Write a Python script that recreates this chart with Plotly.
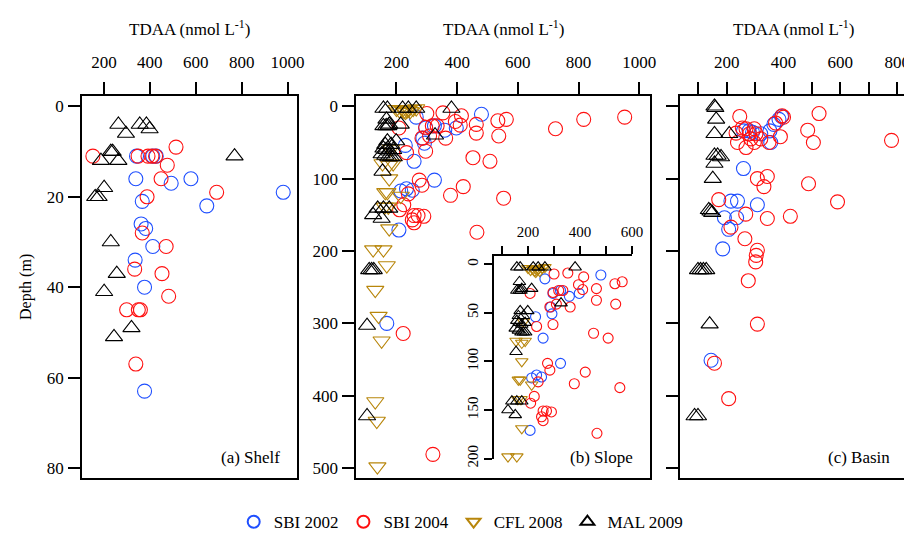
import plotly.graph_objects as go

# ---------------- data ----------------
# Panel (a) Shelf
shelf_sbi02_tdaa = [342, 413, 428, 339, 493, 579, 981, 648, 367, 362, 382, 413, 336, 377, 377]
shelf_sbi02_depth = [11, 11, 11, 16, 17, 16, 19, 22, 21, 26, 27, 31, 34, 40, 63]
shelf_sbi04_tdaa = [152, 349, 392, 409, 425, 514, 476, 449, 691, 388, 367, 471, 334, 453, 482, 299, 350, 359, 339]
shelf_sbi04_depth = [11, 11, 11, 11, 11, 9, 13, 16, 19, 20, 28, 31, 36, 37, 42, 45, 45, 45, 57]
shelf_mal_tdaa = [263, 356, 385, 399, 296, 230, 238, 187, 263, 769, 201, 162, 177, 230, 256, 201, 320, 244]
shelf_mal_depth = [4, 4, 4, 5, 6, 10, 10, 12, 12, 11, 18, 20, 20, 30, 37, 41, 49, 51]

# Panel (b) Slope
slope_sbi02_tdaa = [265, 480, 296, 325, 359, 397, 287, 292, 229, 258, 325, 214, 233, 252, 208, 168]
slope_sbi02_depth = [15, 11, 30, 27, 33, 30, 44, 51, 54, 76, 102, 117, 114, 116, 171, 300]
slope_sbi04_tdaa = [300, 353, 414, 394, 410, 463, 534, 562, 296, 318, 334, 309, 284, 362, 463, 537,
                    208, 233, 296, 452, 508, 275, 284, 420, 378, 553, 239, 224, 210, 258, 271, 290,
                    252, 258, 465, 724, 817, 952, 222, 320]
slope_sbi04_depth = [10, 9, 13, 21, 26, 25, 20, 18, 29, 27, 27, 41, 44, 44, 37, 41,
                     30, 64, 62, 71, 76, 102, 109, 111, 123, 127, 121, 136, 143, 151, 151, 152,
                     157, 161, 174, 31, 18, 15, 314, 481]
slope_cfl_tdaa = [200, 210, 220, 225, 230, 235, 240, 245, 255, 265, 182, 154, 176, 189, 176, 163, 170,
                  214, 161, 173, 176, 123, 157, 168, 130, 141, 151, 130, 135, 137]
slope_cfl_depth = [4, 6, 5, 7, 8, 6, 5, 7, 4, 3, 59, 79, 81, 79, 100, 119, 119,
                   124, 139, 139, 169, 198, 198, 220, 254, 290, 324, 408, 435, 498]
slope_mal_tdaa = [157, 170, 220, 239, 265, 381, 167, 176, 214, 157, 166, 173, 327, 170, 199, 163, 182,
                  157, 166, 176, 189, 151, 163, 173, 182, 191, 154, 138, 157, 176, 123, 151,
                  110, 118, 125, 103, 103]
slope_mal_depth = [3, 3, 3, 3, 3, 3, 18, 25, 25, 27, 27, 27, 40, 48, 48, 53, 53,
                   58, 60, 62, 60, 66, 68, 70, 70, 70, 90, 141, 141, 141, 150, 155,
                   226, 226, 226, 303, 428]

# Panel (c) Basin
basin_sbi02_tdaa = [393, 384, 366, 352, 259, 279, 291, 320, 355, 259, 215, 238, 308, 192, 235, 207, 186, 145]
basin_sbi02_depth = [14, 18, 25, 34, 34, 34, 36, 38, 50, 86, 131, 131, 136, 154, 154, 170, 197, 351]
basin_sbi04_tdaa = [246, 525, 395, 400, 372, 485, 505, 780, 233, 268, 297, 280, 303, 238, 268, 297, 349,
                    389, 255, 285, 320, 308, 343, 331, 488, 590, 172, 267, 343, 424, 215, 264, 308,
                    304, 302, 276, 308, 157, 207]
basin_sbi04_depth = [14, 10, 13, 15, 23, 33, 50, 47, 37, 31, 31, 38, 38, 50, 57, 50, 50,
                     42, 30, 45, 45, 100, 97, 111, 107, 132, 129, 149, 155, 152, 167, 183, 199,
                     206, 215, 241, 301, 355, 404]
basin_mal_tdaa = [157, 160, 163, 157, 209, 157, 168, 180, 157, 151, 137, 143, 149, 99, 108, 118, 128,
                  140, 87, 99]
basin_mal_depth = [0, 2, 18, 38, 38, 68, 68, 70, 79, 100, 143, 145, 147, 226, 226, 226, 226,
                   301, 428, 428]

series_names = ["SBI 2002", "SBI 2004", "CFL 2008", "MAL 2009"]
x_ticks_main = [200, 400, 600, 800, 1000]
x_ticks_basin = [200, 400, 600, 800]
x_ticks_inset = [200, 400, 600]

# ---------------- styling ----------------
W, H = 912, 533
FONT = "Liberation Serif"
COL = {"SBI 2002": "#1f4fff", "SBI 2004": "#ff1010", "CFL 2008": "#b8860b", "MAL 2009": "#000000"}
SYM = {"SBI 2002": "circle-open", "SBI 2004": "circle-open",
       "CFL 2008": "triangle-down-open", "MAL 2009": "triangle-up-open"}


def dom_x(a, b):
    return [a / W, b / W]


def dom_y(top, bottom):
    return [1 - bottom / H, 1 - top / H]


fig = go.Figure()


def add(xs, ys, name, xa, ya, size=14, legend=False, clip=True):
    fig.add_trace(go.Scatter(
        x=xs, y=ys, mode="markers", name=name, legendgroup=name, showlegend=legend,
        xaxis=xa, yaxis=ya, cliponaxis=clip,
        marker=dict(symbol=SYM[name], size=size, color=COL[name], line=dict(width=1.1, color=COL[name]))))


# panel a
add(shelf_sbi02_tdaa, shelf_sbi02_depth, "SBI 2002", "x", "y")
add(shelf_sbi04_tdaa, shelf_sbi04_depth, "SBI 2004", "x", "y")
add(shelf_mal_tdaa, shelf_mal_depth, "MAL 2009", "x", "y", size=15)
# panel b
add(slope_sbi02_tdaa, slope_sbi02_depth, "SBI 2002", "x2", "y2", legend=True)
add(slope_sbi04_tdaa, slope_sbi04_depth, "SBI 2004", "x2", "y2", legend=True)
add(slope_cfl_tdaa, slope_cfl_depth, "CFL 2008", "x2", "y2", size=15, legend=True)
add(slope_mal_tdaa, slope_mal_depth, "MAL 2009", "x2", "y2", size=15, legend=True)
# panel c
add(basin_sbi02_tdaa, basin_sbi02_depth, "SBI 2002", "x3", "y3")
add(basin_sbi04_tdaa, basin_sbi04_depth, "SBI 2004", "x3", "y3")
add(basin_mal_tdaa, basin_mal_depth, "MAL 2009", "x3", "y3", size=15)

# inset (zoom of slope, 0-200 m, up to 600 nmol/L)
INSET_XMAX, INSET_YMAX = 600, 200


def inset_filter(xs, ys):
    pts = [(a, b) for a, b in zip(xs, ys) if a <= INSET_XMAX and b <= INSET_YMAX]
    return [p[0] for p in pts], [p[1] for p in pts]


for xs, ys, nm, sz in [(slope_sbi02_tdaa, slope_sbi02_depth, "SBI 2002", 10),
                       (slope_sbi04_tdaa, slope_sbi04_depth, "SBI 2004", 10),
                       (slope_cfl_tdaa, slope_cfl_depth, "CFL 2008", 11),
                       (slope_mal_tdaa, slope_mal_depth, "MAL 2009", 11)]:
    fx, fy = inset_filter(xs, ys)
    add(fx, fy, nm, "x4", "y4", size=sz, clip=False)

tickfont = dict(family=FONT, size=17, color="black")
common_x = dict(side="top", showline=True, mirror=True, linewidth=2, linecolor="black",
                ticks="outside", ticklen=12, tickwidth=2, tickcolor="black",
                showgrid=False, zeroline=False, tickfont=tickfont, ticklabelstandoff=8)
common_y = dict(showline=True, mirror=True, linewidth=2, linecolor="black",
                ticks="outside", ticklen=12, tickwidth=2, tickcolor="black",
                showgrid=False, zeroline=False, tickfont=tickfont)

fig.update_layout(
    width=W, height=H, margin=dict(l=0, r=0, t=0, b=0),
    paper_bgcolor="white", plot_bgcolor="rgba(0,0,0,0)",
    font=dict(family=FONT, size=17, color="black"),
    xaxis=dict(common_x, domain=dom_x(75, 293), range=[105, 1043], tickvals=x_ticks_main, anchor="y"),
    yaxis=dict(common_y, domain=dom_y(90, 478), range=[82.2, -2.2], tickvals=[0, 20, 40, 60, 80],
               anchor="x", ticklabelstandoff=1),
    xaxis2=dict(common_x, domain=dom_x(352.7, 650), range=[68, 1036], tickvals=x_ticks_main, anchor="y2"),
    yaxis2=dict(common_y, domain=dom_y(90, 478), range=[513.6, -13.6], tickvals=[0, 100, 200, 300, 400, 500],
                anchor="x2", ticklabelstandoff=1),
    xaxis3=dict(common_x, domain=dom_x(680, 910.7), range=[35, 837], tickvals=x_ticks_basin, anchor="y3",
                minor=dict(tickvals=[100, 300, 500, 700], ticks="outside", ticklen=12, tickwidth=2,
                           tickcolor="black", showgrid=False)),
    yaxis3=dict(common_y, domain=dom_y(90, 478), range=[513.6, -13.6], tickvals=[0, 100, 200, 300, 400, 500],
                showticklabels=False, anchor="x3"),
    xaxis4=dict(side="top", showline=True, mirror=False, linewidth=2, linecolor="black",
                ticks="outside", ticklen=8, tickwidth=1.5, tickcolor="black", showgrid=False, zeroline=False,
                tickfont=dict(family=FONT, size=15, color="black"), ticklabelstandoff=3,
                domain=dom_x(491.7, 631.7), range=[68.4, 600], tickvals=x_ticks_inset, anchor="y4",
                minor=dict(tickvals=[100, 300, 500], ticks="outside", ticklen=8, tickwidth=1.5,
                           tickcolor="black", showgrid=False)),
    yaxis4=dict(showline=True, mirror=False, linewidth=2, linecolor="black",
                ticks="outside", ticklen=8, tickwidth=1.5, tickcolor="black", showgrid=False, zeroline=False,
                tickfont=dict(family=FONT, size=15, color="black"), tickangle=-90,
                domain=dom_y(252.3, 458.3), range=[200, -8.5], tickvals=[0, 50, 100, 150, 200], anchor="x4"),
    legend=dict(orientation="h", x=0.503, xanchor="center", y=1 - 523 / H, yanchor="middle",
                font=dict(family=FONT, size=17), itemsizing="constant", bgcolor="rgba(0,0,0,0)",
                traceorder="normal"),
)

title = "TDAA (nmol L<sup>-1</sup>)"
for xr in ["x", "x2", "x3"]:
    fig.add_annotation(text=title, xref=f"{xr} domain", x=0.5, yref="paper", y=1 - 20 / H,
                       showarrow=False, font=dict(family=FONT, size=17), xanchor="center", yanchor="middle")

for xr, lab in [("x", "(a) Shelf"), ("x2", "(b) Slope"), ("x3", "(c) Basin")]:
    fig.add_annotation(text=lab, xref=f"{xr} domain", x=0.93 if xr != "x2" else 0.95, yref="paper",
                       y=1 - 457 / H, showarrow=False, xanchor="right", yanchor="middle",
                       font=dict(family=FONT, size=17))

fig.add_annotation(text="Depth (m)", xref="paper", x=18 / W, yref="paper", y=1 - 284 / H,
                   textangle=-90, showarrow=False, xanchor="center", yanchor="middle",
                   font=dict(family=FONT, size=16))

fig.write_html("out.html")
